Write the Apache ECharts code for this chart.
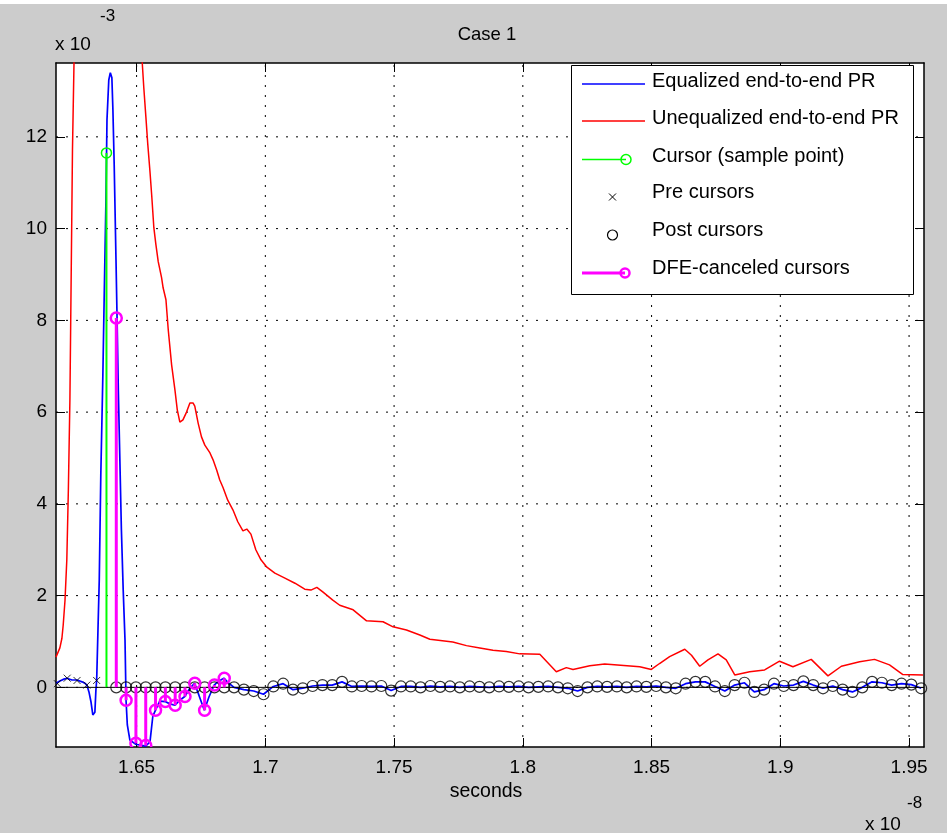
<!DOCTYPE html>
<html><head><meta charset="utf-8">
<script src="https://cdn.jsdelivr.net/npm/echarts@6/dist/echarts.min.js"></script>
<style>html,body{margin:0;padding:0;background:#cccccc;} #c{width:947px;height:833px;}</style>
</head><body><div id="c"></div>
<script>
// ---- axes (time in units of 1e-8 s, amplitude in units of 1e-3) ----
const xTickValues = [1.65, 1.7, 1.75, 1.8, 1.85, 1.9, 1.95];
const xTickLabels = ['1.65', '1.7', '1.75', '1.8', '1.85', '1.9', '1.95'];
const yTickValues = [0, 2, 4, 6, 8, 10, 12];
const yTickLabels = ['0', '2', '4', '6', '8', '10', '12'];
const xRange = [1.6187, 1.9558];
const yRange = [-1.30, 13.61];

// ---- Unequalized end-to-end PR (red) ----
const unequalizedTime = [1.6187,1.6202,1.6210,1.6215,1.6222,1.6229,1.6235,1.6241,1.6245,1.6251,1.6257,1.6264,1.6299,1.6358,1.6435,1.6493,1.6522,1.6528,1.6536,1.6543,1.6552,1.6559,1.6567,1.6575,1.6584,1.6597,1.6603,1.6614,1.6623,1.6636,1.6649,1.6658,1.6668,1.6680,1.6694,1.6707,1.6719,1.6726,1.6739,1.6752,1.6765,1.6785,1.6797,1.6811,1.6823,1.6836,1.6854,1.6874,1.6893,1.6913,1.6928,1.6944,1.6963,1.6983,1.7006,1.7037,1.7076,1.7115,1.7153,1.7177,1.7200,1.7223,1.7262,1.7289,1.7341,1.7393,1.7457,1.7496,1.7548,1.7600,1.7639,1.7728,1.7781,1.7833,1.7884,1.7936,1.7988,1.8066,1.8130,1.8169,1.8195,1.8260,1.8318,1.8454,1.8499,1.8531,1.8570,1.8629,1.8655,1.8687,1.8719,1.8758,1.8790,1.8823,1.8881,1.8939,1.8997,1.9049,1.9120,1.9185,1.9237,1.9308,1.9366,1.9424,1.9476,1.9554];
const unequalizedValue = [0.66,0.86,1.07,1.36,1.9,2.78,4.3,6.27,8.45,11.72,13.64,16.2,18.5,20.5,18.5,15.5,13.61,13.07,12.44,11.87,11.24,10.7,10.02,9.65,9.28,8.93,8.71,8.45,7.79,7.03,6.48,6.05,5.78,5.83,6.0,6.2,6.2,6.13,5.76,5.46,5.28,5.11,4.96,4.74,4.52,4.35,4.08,3.87,3.61,3.41,3.45,3.34,3.0,2.78,2.62,2.49,2.38,2.27,2.14,2.12,2.18,2.08,1.9,1.79,1.69,1.45,1.43,1.32,1.25,1.14,1.05,0.99,0.91,0.86,0.81,0.78,0.73,0.72,0.34,0.43,0.39,0.47,0.51,0.45,0.39,0.52,0.67,0.83,0.7,0.46,0.6,0.73,0.6,0.27,0.34,0.38,0.57,0.45,0.61,0.25,0.46,0.56,0.61,0.49,0.28,0.27];

// ---- Equalized end-to-end PR (blue), main pulse part ----
const equalizedTime = [1.6187,1.6202,1.6218,1.6229,1.6249,1.6268,1.6288,1.6299,1.6307,1.6315,1.6323,1.6330,1.6338,1.6342,1.6345,1.6350,1.6355,1.6361,1.6369,1.6374,1.6381,1.6385,1.6392,1.6398,1.6404,1.6408,1.6413,1.6420,1.6425,1.6429,1.6435,1.6441,1.6448,1.6455,1.6459,1.6464,1.6474,1.6497,1.6535,1.6552,1.6563,1.6573,1.6590,1.6611,1.6629,1.6649,1.6668,1.6687,1.6707,1.6725,1.6742,1.6763,1.6781,1.6801,1.6820,1.6839,1.6858];
const equalizedValue = [0.09,0.14,0.18,0.2,0.16,0.16,0.12,0.09,0.05,-0.1,-0.32,-0.6,-0.54,-0.06,0.16,1.25,2.34,4.63,6.81,8.45,10.63,12.37,13.24,13.4,13.29,12.59,11.39,9.32,7.79,6.48,4.96,3.43,2.12,1.03,-0.28,-0.82,-1.15,-1.24,-1.28,-1.19,-0.63,-0.5,-0.3,-0.31,-0.36,-0.39,-0.28,-0.2,-0.02,0.09,-0.17,-0.5,-0.21,0.05,0.14,0.2,0.09];

// ---- sampled cursors ----
const cursorTime = 1.6383;      // sample point
const symbolPeriod = 0.003812;  // one UI
const cursorValue = 11.65;
const preCursorValues = [0.08, 0.2, 0.15, 0.05, 0.15];            // k = -5..-1
const dfeValues = [8.05,-0.28,-1.22,-1.27,-0.5,-0.31,-0.39,-0.2,0.09,-0.5,0.05,0.2]; // k = 1..12
const postCursorValues = [0,0,0,0,0,0,0,0,0,0,0,0,              // k = 1..12 (canceled)
  0.0,-0.05,-0.08,-0.15,0.02,0.08,-0.05,-0.02,0.03,0.05,0.05,0.12,0.02,0.03,0.02,0.03,-0.07,0.02,
  0.02,0.0,0.03,0.01,0.02,0.0,0.02,0.01,0.0,0.02,0.01,0.02,0.0,0.01,0.02,0.0,-0.02,-0.08,
  0.0,0.02,0.01,0.02,0.0,0.02,0.01,0.03,0.0,-0.02,0.08,0.12,0.12,0.02,-0.08,0.05,0.1,-0.1,
  -0.05,0.08,0.03,0.05,0.13,0.05,-0.02,0.03,-0.05,-0.1,0.0,0.12,0.1,0.05,0.08,0.06,-0.02]; // k = 13..83

const FONT = '"Liberation Sans", Arial, sans-serif';

const sampleTime = k => cursorTime + k * symbolPeriod;
const preData = preCursorValues.map((v, i) => [sampleTime(i - preCursorValues.length), v]);
const dfeData = dfeValues.map((v, i) => [sampleTime(i + 1), v]);
const postData = postCursorValues.map((v, i) => [sampleTime(i + 1), v]);
const blueData = equalizedTime.map((t, i) => [t, equalizedValue[i]])
  .concat(postData.slice(dfeValues.length));
const redData = unequalizedTime.map((t, i) => [t, unequalizedValue[i]]);

function labelFor(values, labels) {
  return v => { const i = values.findIndex(t => Math.abs(t - v) < 1e-9); return i >= 0 ? labels[i] : ''; };
}

const chart = echarts.init(document.getElementById('c'), null, {renderer: 'canvas'});

const axisCommon = {
  axisLine: {show: true, onZero: false, lineStyle: {color: '#000', width: 1.5}},
  splitLine: {show: false},
};

function stemRender(color, lw, r, cw) {
  return function (params, api) {
    const x = api.value(0), y = api.value(1);
    const p0 = api.coord([x, 0]), p1 = api.coord([x, y]);
    return {type: 'group', children: [
      {type: 'line', shape: {x1: p0[0], y1: p0[1], x2: p1[0], y2: p1[1]}, style: {stroke: color, lineWidth: lw}},
      {type: 'circle', shape: {cx: p1[0], cy: p1[1], r: r}, style: {fill: 'none', stroke: color, lineWidth: cw}}
    ]};
  };
}

const lg = {x0: 582, x1: 645, tx: 652};
const legendRows = [
  {y: 84, ty: 81.7, text: 'Equalized end-to-end PR'},
  {y: 121, ty: 118.8, text: 'Unequalized end-to-end PR'},
  {y: 159.5, ty: 156.7, text: 'Cursor (sample point)'},
  {y: 197, ty: 192.7, text: 'Pre cursors'},
  {y: 235, ty: 230.5, text: 'Post cursors'},
  {y: 273, ty: 268.5, text: 'DFE-canceled cursors'}
];

const graphics = [
  {type: 'rect', left: 0, top: 0, shape: {width: 947, height: 4}, style: {fill: '#fff'}, z: 0},
  {type: 'text', x: 487, y: 35, style: {text: 'Case 1', font: '18.5px ' + FONT, fill: '#000', textAlign: 'center', textVerticalAlign: 'middle'}},
  {type: 'text', x: 486, y: 792, style: {text: 'seconds', font: '19.5px ' + FONT, fill: '#000', textAlign: 'center', textVerticalAlign: 'middle'}},
  {type: 'text', x: 55, y: 44.5, style: {text: 'x 10', font: '19px ' + FONT, fill: '#000', textAlign: 'left', textVerticalAlign: 'middle'}},
  {type: 'text', x: 100, y: 16, style: {text: '-3', font: '17px ' + FONT, fill: '#000', textAlign: 'left', textVerticalAlign: 'middle'}},
  {type: 'text', x: 865, y: 825, style: {text: 'x 10', font: '19px ' + FONT, fill: '#000', textAlign: 'left', textVerticalAlign: 'middle'}},
  {type: 'text', x: 907, y: 803, style: {text: '-8', font: '17px ' + FONT, fill: '#000', textAlign: 'left', textVerticalAlign: 'middle'}},
  // legend
  {type: 'rect', shape: {x: 571.5, y: 65.5, width: 342, height: 229}, style: {fill: '#fff', stroke: '#000', lineWidth: 1}, z: 50},
  {type: 'line', shape: {x1: lg.x0, y1: legendRows[0].y, x2: lg.x1, y2: legendRows[0].y}, style: {stroke: '#0000ff', lineWidth: 1.5}, z: 51},
  {type: 'line', shape: {x1: lg.x0, y1: legendRows[1].y, x2: lg.x1, y2: legendRows[1].y}, style: {stroke: '#ff0000', lineWidth: 1.5}, z: 51},
  {type: 'line', shape: {x1: lg.x0, y1: legendRows[2].y, x2: 626, y2: legendRows[2].y}, style: {stroke: '#00ff00', lineWidth: 1.5}, z: 51},
  {type: 'circle', shape: {cx: 626, cy: legendRows[2].y, r: 5}, style: {fill: 'none', stroke: '#00ff00', lineWidth: 1.5}, z: 51},
  {type: 'polyline', shape: {points: [[609, legendRows[3].y - 3.5], [616, legendRows[3].y + 3.5]]}, style: {stroke: '#000', lineWidth: 1}, z: 51},
  {type: 'polyline', shape: {points: [[616, legendRows[3].y - 3.5], [609, legendRows[3].y + 3.5]]}, style: {stroke: '#000', lineWidth: 1}, z: 51},
  {type: 'circle', shape: {cx: 612.5, cy: legendRows[4].y, r: 5}, style: {fill: 'none', stroke: '#000', lineWidth: 1.2}, z: 51},
  {type: 'line', shape: {x1: lg.x0, y1: legendRows[5].y, x2: 625, y2: legendRows[5].y}, style: {stroke: '#ff00ff', lineWidth: 3}, z: 51},
  {type: 'circle', shape: {cx: 625, cy: legendRows[5].y, r: 4.5}, style: {fill: 'none', stroke: '#ff00ff', lineWidth: 2.5}, z: 51}
];
legendRows.forEach(r => graphics.push({type: 'text', x: lg.tx, y: r.ty, z: 52,
  style: {text: r.text, font: '20px ' + FONT, fill: '#000', textAlign: 'left', textVerticalAlign: 'middle'}}));

chart.setOption({
  animation: false,
  backgroundColor: '#cccccc',
  grid: {left: 56, right: 23, top: 63, bottom: 86, show: true, backgroundColor: '#fff', borderWidth: 0},
  xAxis: [
    Object.assign({type: 'value', min: xRange[0], max: xRange[1], position: 'bottom',
      axisTick: {show: true, inside: true, length: 9, customValues: xTickValues, lineStyle: {color: '#000'}},
      axisLabel: {show: true, customValues: xTickValues, formatter: labelFor(xTickValues, xTickLabels), margin: 11,
        color: '#000', fontFamily: FONT, fontSize: 19}}, axisCommon),
    Object.assign({type: 'value', min: xRange[0], max: xRange[1], position: 'top',
      axisTick: {show: true, inside: true, length: 9, customValues: xTickValues, lineStyle: {color: '#000'}},
      axisLabel: {show: false}}, axisCommon)
  ],
  yAxis: [
    Object.assign({type: 'value', min: yRange[0], max: yRange[1], position: 'left',
      axisTick: {show: true, inside: true, length: 9, customValues: yTickValues, lineStyle: {color: '#000'}},
      axisLabel: {show: true, customValues: yTickValues, formatter: labelFor(yTickValues, yTickLabels), margin: 9,
        color: '#000', fontFamily: FONT, fontSize: 19}}, axisCommon),
    Object.assign({type: 'value', min: yRange[0], max: yRange[1], position: 'right',
      axisTick: {show: true, inside: true, length: 9, customValues: yTickValues, lineStyle: {color: '#000'}},
      axisLabel: {show: false}}, axisCommon)
  ],
  graphic: graphics,
  series: [
    {name: 'xgrid', type: 'custom', z: 1, silent: true, clip: true, data: xTickValues,
      renderItem: (p, api) => { const v = api.value(0); const a = api.coord([v, yRange[0]]), b = api.coord([v, yRange[1]]);
        return {type: 'line', shape: {x1: a[0], y1: a[1], x2: b[0], y2: b[1]}, style: {stroke: '#000', lineWidth: 1, lineDash: [2, 8]}}; }},
    {name: 'ygrid', type: 'custom', z: 1, silent: true, clip: true, data: yTickValues,
      renderItem: (p, api) => { const v = api.value(0); const a = api.coord([xRange[0], v]), b = api.coord([xRange[1], v]);
        return {type: 'line', shape: {x1: a[0], y1: a[1], x2: b[0], y2: b[1]}, style: {stroke: '#000', lineWidth: 1, lineDash: [2, 8]}}; },
      encode: {x: null, y: 0}},
    {name: 'Equalized end-to-end PR', type: 'line', z: 2, data: blueData, showSymbol: false, symbol: 'none', clip: true,
      lineStyle: {color: '#0000ff', width: 1.7}},
    {name: 'Unequalized end-to-end PR', type: 'line', z: 2, data: redData, showSymbol: false, symbol: 'none', clip: true,
      lineStyle: {color: '#ff0000', width: 1.5}},
    {name: 'baseline', type: 'custom', z: 3, silent: true, data: [0],
      renderItem: (p, api) => { const a = api.coord([xRange[0], 0]), b = api.coord([xRange[1], 0]);
        return {type: 'line', shape: {x1: a[0], y1: a[1], x2: b[0], y2: b[1]}, style: {stroke: '#000', lineWidth: 1}}; },
      encode: {x: null, y: 0}},
    {name: 'Cursor (sample point)', type: 'custom', z: 4, clip: true, data: [[cursorTime, cursorValue]],
      renderItem: stemRender('#00ff00', 2, 5, 1.5)},
    {name: 'Pre cursors', type: 'scatter', z: 4, data: preData, symbol: 'path://M0,0L10,10M10,0L0,10', symbolSize: 7,
      itemStyle: {color: 'none', borderColor: '#000', borderWidth: 1}},
    {name: 'Post cursors', type: 'scatter', z: 4, data: postData, symbol: 'circle', symbolSize: 11,
      itemStyle: {color: 'rgba(0,0,0,0)', borderColor: '#000', borderWidth: 1.2}},
    {name: 'DFE-canceled cursors', type: 'custom', z: 5, clip: true, data: dfeData,
      renderItem: stemRender('#ff00ff', 3, 5.5, 2.5)}
  ]
});
</script></body></html>
